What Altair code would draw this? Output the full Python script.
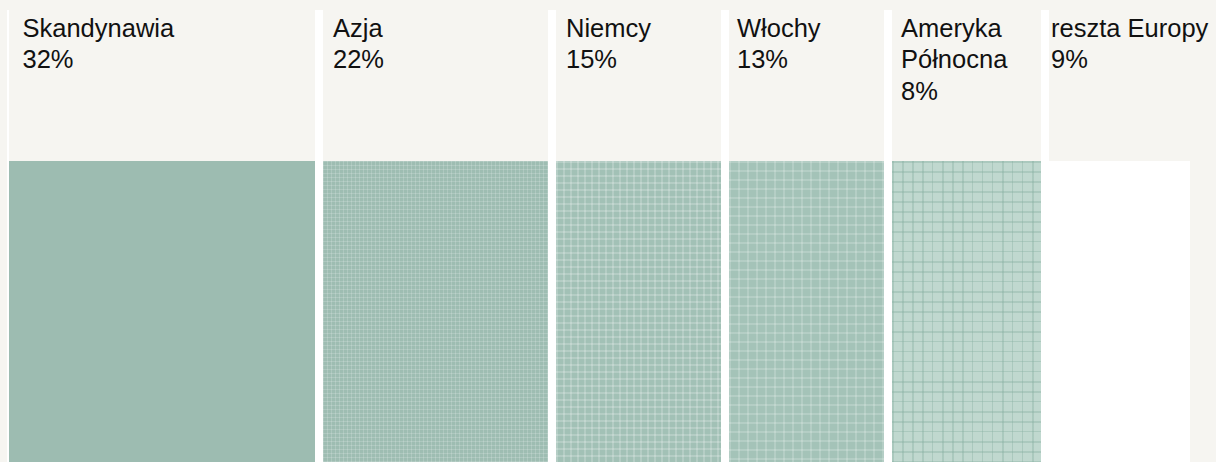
import altair as alt
import pandas as pd

# ---- data ----
regions = ["Skandynawia", "Azja", "Niemcy", "Włochy", "Ameryka Północna", "reszta Europy"]
shares = [32, 22, 15, 13, 8, 9]
label_lines = [["Skandynawia"], ["Azja"], ["Niemcy"], ["Włochy"], ["Ameryka", "Północna"], ["reszta Europy"]]

labels = ["\n".join(lines + [f"{s}%"]) for lines, s in zip(label_lines, shares)]
df = pd.DataFrame({"region": regions, "share": shares, "label": labels})

# ---- styles / layout ----
fills = ["#9dbcb1", "#9ebdb2", "#a2c1b6", "#a4c3b8", "#c0d8cf", "#ffffff"]
panel_w = [308, 233, 173, 163, 157, 175]
strip_w = [2, 8, 8, 8, 8, 8]
body_x0 = [2, 8, 8, 8, 8, 0]
body_x1 = [308, 233, 173, 163, 157, 149]
text_x = [15.5, 18, 18, 16, 17, 10]
H = 452
BODY_TOP = 151

# texture (period px, line px, colour) per panel, None = plain
textures = [
    None,
    (4, 1, "rgba(255,255,255,0.17)"),
    (7, 2, "rgba(255,255,255,0.20)"),
    (9, 2, "rgba(255,255,255,0.18)"),
    (10, 1.5, "rgba(130,172,157,0.35)"),
    None,
]


def stripe_gradient(length, period, line, col, vertical):
    stops = []
    pos = 0.0
    clear = "rgba(255,255,255,0)"
    while pos < length:
        a = pos / length
        b = min(pos + line, length) / length
        c = min(pos + period, length) / length
        stops += [
            {"offset": a, "color": col},
            {"offset": b, "color": col},
            {"offset": b, "color": clear},
            {"offset": c, "color": clear},
        ]
        pos += period
    if vertical:  # vertical lines -> gradient along x
        return {"gradient": "linear", "x1": 0, "y1": 0, "x2": 1, "y2": 0, "stops": stops}
    return {"gradient": "linear", "x1": 0, "y1": 0, "x2": 0, "y2": 1, "stops": stops}


color_scale = alt.Scale(domain=regions, range=fills)

panels = []
for i, r in enumerate(regions):
    base = alt.Chart(df).transform_filter(alt.datum.region == r)
    body_enc = dict(
        x=alt.value(body_x0[i]), x2=alt.value(body_x1[i]),
        y=alt.value(BODY_TOP), y2=alt.value(H),
    )
    strip = base.mark_rect(color="white").encode(
        x=alt.value(0), x2=alt.value(strip_w[i]), y=alt.value(0), y2=alt.value(H)
    )
    body = base.mark_rect().encode(
        color=alt.Color("region:N", scale=color_scale, legend=None), **body_enc
    )
    layers = [strip, body]
    if textures[i] is not None:
        per, ln, col = textures[i]
        bw = body_x1[i] - body_x0[i]
        bh = H - BODY_TOP
        layers.append(base.mark_rect(fill=stripe_gradient(bw, per, ln, col, True)).encode(**body_enc))
        layers.append(base.mark_rect(fill=stripe_gradient(bh, per, ln, col, False)).encode(**body_enc))
    text = base.mark_text(
        align="left", baseline="alphabetic", fontSize=25.5, lineHeight=31.5,
        lineBreak="\n", font="Liberation Sans", color="#111111",
    ).encode(x=alt.value(text_x[i]), y=alt.value(26.5), text="label:N")
    layers.append(text)
    panels.append(alt.layer(*layers).properties(width=panel_w[i], height=H))

chart = alt.hconcat(*panels, spacing=0).properties(
    background="#f6f5f1",
    padding={"left": 7, "top": 10, "right": 0, "bottom": 0},
).configure_view(stroke=None, strokeWidth=0).configure_concat(spacing=0)

chart.save("out.html", embed_options={"renderer": "svg", "actions": False})
